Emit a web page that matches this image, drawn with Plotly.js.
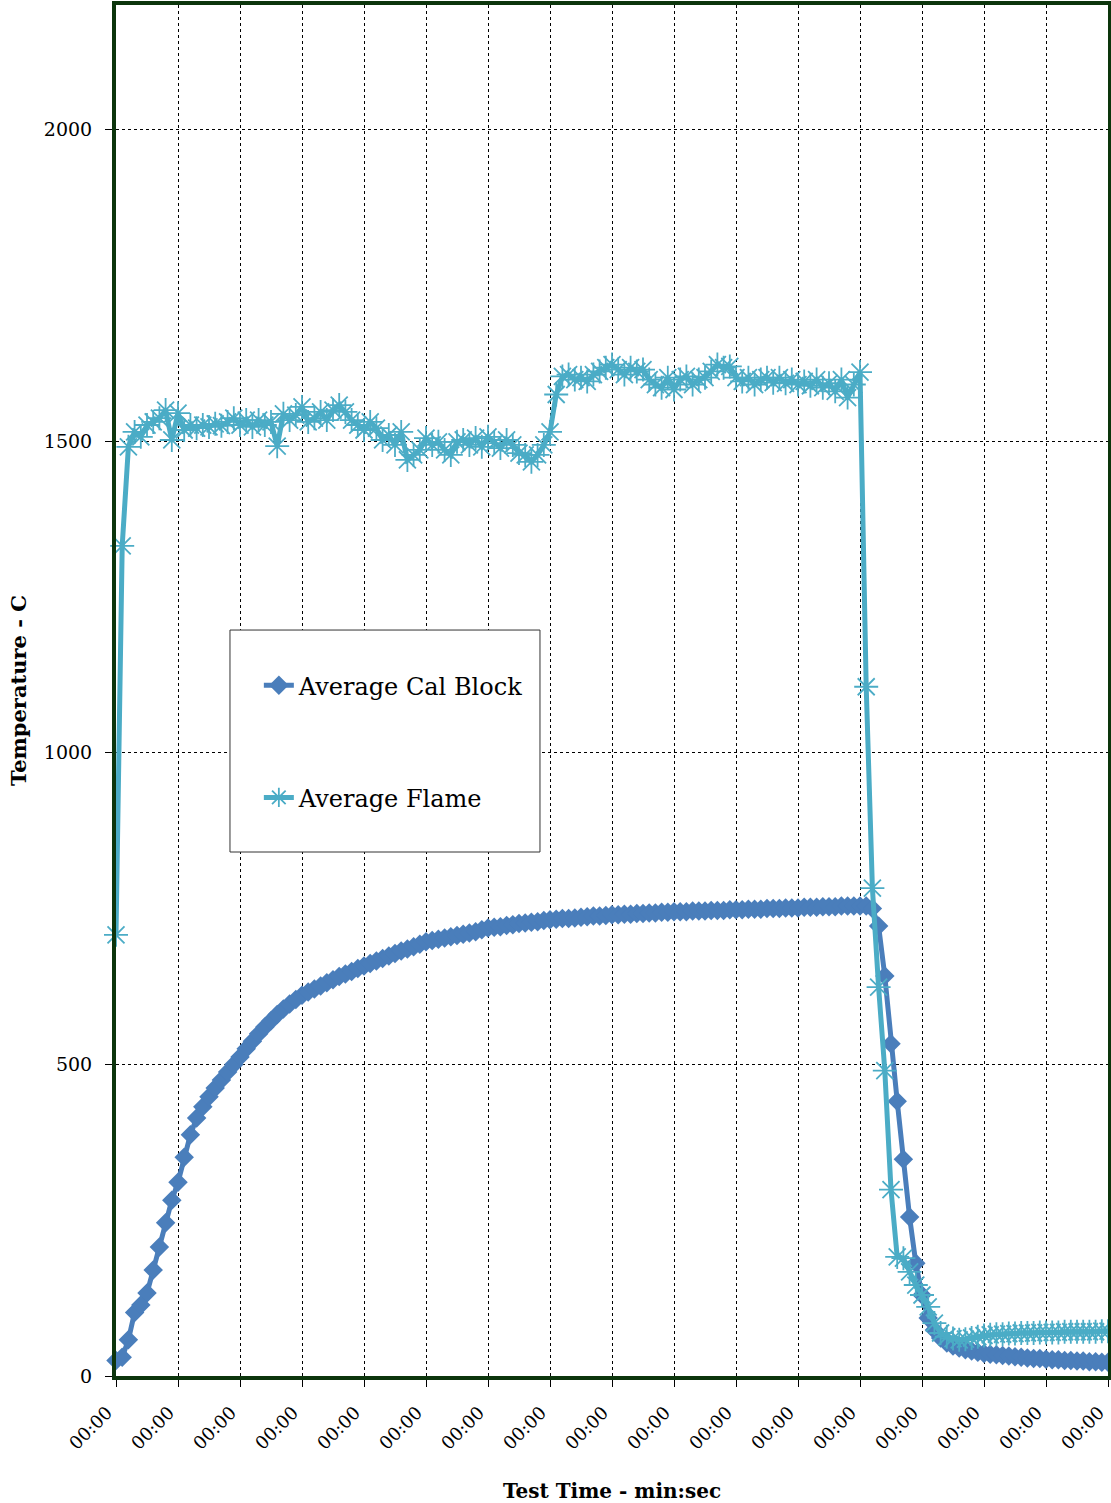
<!DOCTYPE html>
<html>
<head>
<meta charset="utf-8">
<script src="https://cdn.plot.ly/plotly-3.0.1.min.js"></script>
<style>
html,body{margin:0;padding:0;background:#fff;}
#chart{width:1111px;height:1503px;}
</style>
</head>
<body>
<div id="chart"></div>
<script>
// sample index (one reading per step), ticks every 10 samples
const sampleIndex = Array.from({length: 161}, (_, i) => i);

const calBlock = [
  25, 30, 58, 102, 114, 133, 170, 207, 246, 282,
  311, 351, 387, 414, 432, 448, 462, 475, 488, 500,
  512, 525, 537, 549, 560, 570, 580, 589, 597, 604,
  611, 616, 621, 626, 631, 636, 641, 645, 649, 654,
  658, 662, 666, 670, 674, 678, 682, 685, 689, 693,
  697, 699, 701, 703, 705, 707, 709, 711, 713, 716,
  719, 720, 721, 723, 724, 726, 727, 728, 729, 731,
  732, 733, 734, 734, 735, 736, 737, 738, 738, 739,
  740, 740, 741, 741, 742, 742, 743, 743, 744, 744,
  745, 745, 745, 746, 746, 746, 747, 747, 747, 748,
  748, 748, 749, 749, 749, 750, 750, 750, 751, 751,
  751, 752, 752, 752, 753, 753, 753, 754, 754, 754,
  754, 754, 750, 722, 642, 533, 441, 348, 255, 181,
  130, 93, 74, 61, 53, 48, 45, 42, 40, 38,
  36, 35, 34, 33, 32, 31, 30, 29, 28, 28,
  27, 26, 26, 25, 25, 24, 24, 23, 23, 22,
  22
];

const flame = [
  708, 1332, 1491, 1515, 1507, 1526, 1531, 1537, 1550, 1502,
  1545, 1518, 1526, 1521, 1526, 1523, 1528, 1525, 1531, 1537,
  1526, 1534, 1523, 1534, 1526, 1531, 1492, 1544, 1534, 1542,
  1555, 1531, 1537, 1547, 1534, 1550, 1558, 1547, 1534, 1526,
  1518, 1531, 1521, 1502, 1510, 1494, 1515, 1470, 1478, 1486,
  1505, 1494, 1499, 1486, 1478, 1499, 1502, 1494, 1505, 1491,
  1507, 1497, 1489, 1502, 1494, 1481, 1478, 1467, 1478, 1494,
  1515, 1575, 1604, 1607, 1599, 1602, 1596, 1607, 1612, 1618,
  1623, 1615, 1607, 1618, 1612, 1615, 1599, 1591, 1586, 1602,
  1583, 1599, 1604, 1591, 1599, 1602, 1612, 1623, 1618, 1620,
  1602, 1596, 1602, 1591, 1599, 1602, 1594, 1602, 1593, 1599,
  1591, 1596, 1589, 1599, 1586, 1593, 1580, 1599, 1570, 1591,
  1611, 1106, 783, 624, 490, 299, 191, 189, 167, 146,
  130, 111, 85, 69, 63, 60, 58, 59, 61, 63,
  65, 66, 67, 67, 68, 68, 69, 69, 69, 70,
  70, 70, 70, 71, 71, 71, 71, 71, 71, 72,
  72
];

const xTickVals = [0, 10, 20, 30, 40, 50, 60, 70, 80, 90, 100, 110, 120, 130, 140, 150, 160];
const xTickText = xTickVals.map(() => '00:00');
const yTickVals = [0, 500, 1000, 1500, 2000];

const FONT = '"DejaVu Serif", "Liberation Serif", serif';
const FRAME = '#0c350c';

const traces = [
  {
    x: sampleIndex, y: calBlock, name: 'Average Cal Block', legendgroup: 'a',
    type: 'scatter', mode: 'lines+markers', cliponaxis: false,
    line: {color: '#4a7ebb', width: 5},
    marker: {symbol: 'diamond', size: 15, color: '#4a7ebb'}
  },
  {
    x: sampleIndex, y: flame, name: 'Average Flame', legendgroup: 'b',
    type: 'scatter', mode: 'lines+markers', cliponaxis: false,
    line: {color: '#4bacc6', width: 5},
    marker: {symbol: 'asterisk-open', size: 20, color: '#4bacc6', line: {color: '#4bacc6', width: 1.8}}
  }
];

const layout = {
  width: 1111, height: 1503,
  margin: {l: 116, r: 3, t: 5, b: 127},
  paper_bgcolor: '#fff', plot_bgcolor: '#fff',
  font: {family: FONT, color: '#000', size: 18},
  showlegend: true,
  legend: {
    x: 0.144, y: 0.52, xanchor: 'left', yanchor: 'top',
    bgcolor: 'rgba(0,0,0,0)', borderwidth: 0,
    font: {family: FONT, size: 24, color: '#000'},
    tracegroupgap: 78, traceorder: 'grouped'
  },
  xaxis: {
    range: [0, 160], tickmode: 'array', tickvals: xTickVals, ticktext: xTickText,
    tickangle: -45, ticks: 'outside', ticklen: 7, tickcolor: '#000', tickwidth: 1,
    ticklabelstandoff: 8, ticklabelshift: -9, ticklabeloverflow: 'allow',
    showgrid: true, gridcolor: '#000', gridwidth: 1, griddash: 'dot',
    showline: true, linecolor: FRAME, linewidth: 4, mirror: true, zeroline: false,
    tickfont: {family: FONT, size: 18},
    title: {text: '<b>Test Time - min:sec</b>', font: {family: FONT, size: 20}, standoff: 34}
  },
  yaxis: {
    range: [0, 2200], tickmode: 'array', tickvals: yTickVals,
    ticks: 'outside', ticklen: 7, tickcolor: '#000', tickwidth: 1,
    ticklabelstandoff: 9,
    showgrid: true, gridcolor: '#000', gridwidth: 1, griddash: 'dot',
    showline: true, linecolor: FRAME, linewidth: 4, mirror: true, zeroline: false,
    tickfont: {family: FONT, size: 19},
    title: {text: '<b>Temperature - C</b>', font: {family: FONT, size: 21}, standoff: 12}
  },
  shapes: [{
    type: 'rect', xref: 'paper', yref: 'paper', layer: 'above',
    x0: 0.1149, x1: 0.4274, y0: 0.3822, y1: 0.5441,
    fillcolor: '#fff', line: {color: '#333', width: 1}
  }]
};

Plotly.newPlot('chart', traces, layout, {displayModeBar: false, staticPlot: true});
</script>
</body>
</html>
